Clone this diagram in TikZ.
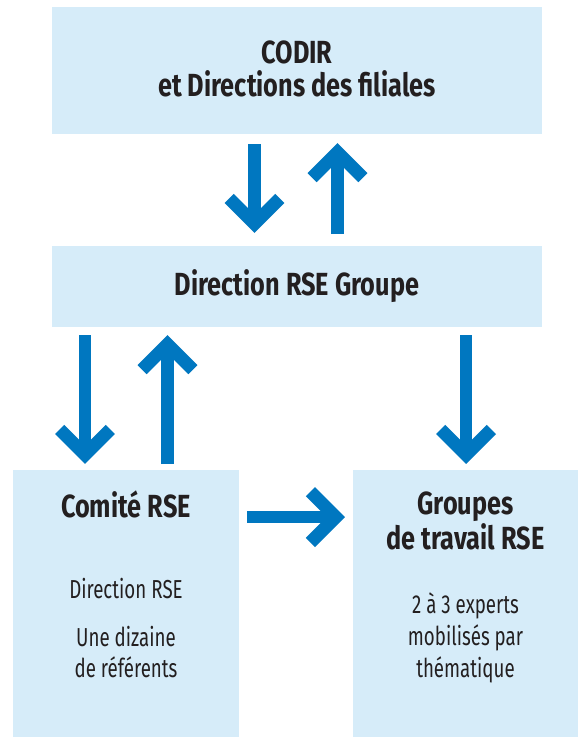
\documentclass[tikz,border=0pt]{standalone}
\usepackage{fontspec}
\setmainfont{Fira Sans}[FakeStretch=0.72]
\newfontfamily\titlefont{Fira Sans}[FakeStretch=0.79]
\usetikzlibrary{calc}
\definecolor{boxblue}{HTML}{D6ECF9}
\definecolor{arrowblue}{HTML}{0077C0}
\definecolor{txt}{HTML}{231F20}
\begin{document}
\begin{tikzpicture}[x=1pt,y=-1pt,
  box/.style={fill=boxblue, draw=none, inner sep=0pt, minimum width=#1},
  titletext/.style={text=txt, align=center, inner sep=0pt, anchor=base,
    font=\titlefont\fontsize{32}{32.5}\selectfont\bfseries},
  bodytext/.style={text=txt, align=center, inner sep=0pt, anchor=base,
    font=\fontsize{26}{32}\selectfont},
  shaft/.style={draw=arrowblue, line width=12.5pt, line cap=butt},
  head/.style={draw=arrowblue, line width=13pt, line cap=butt, line join=miter}]
\useasboundingbox[fill=white] (0,0) rectangle (578,737);

% boxes
\node[box=490pt, minimum height=127pt] (codir) at (297,70.5) {};
\node[box=490pt, minimum height=81pt] (dir) at (297,286.5) {};
\node[box=226pt, minimum height=267pt] (comite) at (126,603.5) {};
\node[box=225pt, minimum height=267pt] (groupes) at (465.5,603.5) {};

% texts (anchor = baseline of last line)
\node[titletext] (t1) at (297,96) {CODIR\\et Directions des filiales};
\node[titletext] (t2) at (297,295) {Direction RSE Groupe};
\node[titletext] (t3) at (126,517) {Comité RSE};
\node[titletext] (t4) at (465.5,549) {Groupes\\de travail RSE};
\node[bodytext] (b1) at (126,598) {Direction RSE};
\node[bodytext, font=\fontsize{26}{31}\selectfont] (b2) at (126,677) {Une dizaine\\de référents};
\node[bodytext] (b3) at (465.5,677) {2 à 3 experts\\mobilisés par\\thématique};

% arrow end points
\coordinate (a1s) at (254.5,144);  \coordinate (a1e) at (254.5,233);
\coordinate (a2s) at (337.5,234);  \coordinate (a2e) at (337.5,143);
\coordinate (a3s) at (85,335);     \coordinate (a3e) at (85,464);
\coordinate (a4s) at (167.5,464);  \coordinate (a4e) at (167.5,335);
\coordinate (a5s) at (466,335);    \coordinate (a5e) at (466,464);
\coordinate (a6s) at (247,517);    \coordinate (a6e) at (345,517);

% down arrows
\foreach \e/\s in {a1e/a1s,a3e/a3s,a5e/a5s}{
  \draw[shaft] (\s) -- ($(\e)+(0,-9.2)$);
  \draw[head] ($(\e)+(-25.4,-34.6)$) -- ($(\e)+(0,-9.2)$) -- ($(\e)+(25.4,-34.6)$);
}
% up arrows
\foreach \e/\s in {a2e/a2s,a4e/a4s}{
  \draw[shaft] (\s) -- ($(\e)+(0,9.2)$);
  \draw[head] ($(\e)+(-25.4,34.6)$) -- ($(\e)+(0,9.2)$) -- ($(\e)+(25.4,34.6)$);
}
% right arrow
\draw[shaft] (a6s) -- ($(a6e)+(-9.2,0)$);
\draw[head] ($(a6e)+(-34.6,-25.4)$) -- ($(a6e)+(-9.2,0)$) -- ($(a6e)+(-34.6,25.4)$);
\end{tikzpicture}
\end{document}
